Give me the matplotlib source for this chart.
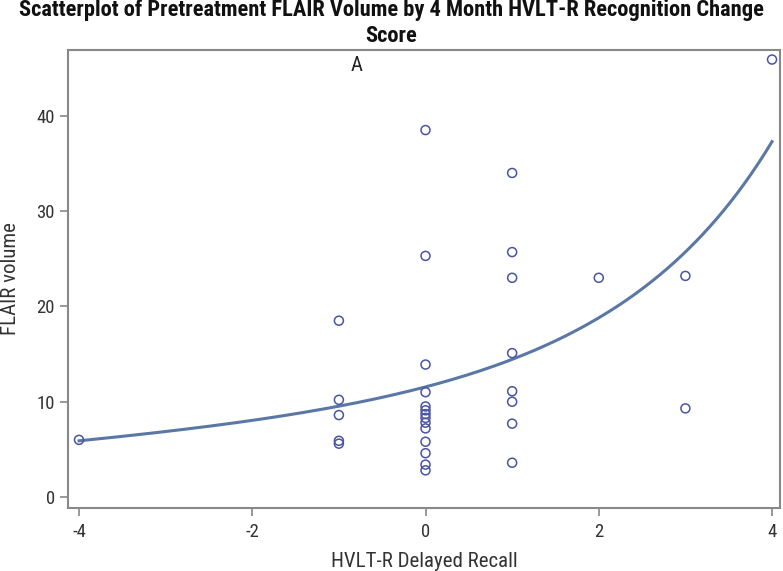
import numpy as np
import matplotlib.pyplot as plt
from matplotlib import font_manager

# delayed recall change score vs pretreatment FLAIR volume
recall = [-4,
          -1, -1, -1, -1, -1,
          0, 0, 0, 0, 0, 0, 0, 0, 0, 0, 0, 0, 0, 0,
          1, 1, 1, 1, 1, 1, 1, 1,
          2,
          3, 3,
          4]
flair = [6.0,
         18.5, 10.2, 8.6, 5.9, 5.6,
         38.5, 25.3, 13.9, 11.0, 9.5, 9.1, 8.7, 8.3, 7.8, 7.2, 5.8, 4.6, 3.4, 2.8,
         34.0, 25.7, 23.0, 15.1, 11.1, 10.0, 7.7, 3.6,
         23.0,
         23.2, 9.3,
         45.9]

# fitted curve, log(volume) = c0 + c1*x + c2*x^2 + c3*x^3 (coefficients)
fit_coef = [2.447, 0.2062, 0.0156, 0.00152]

x_ticks = [-4, -2, 0, 2, 4]
y_ticks = [0, 10, 20, 30, 40]

# pick a narrow face if one is installed
names = {f.name for f in font_manager.fontManager.ttflist}
candidates = ['Arial Narrow', 'Liberation Sans Narrow', 'Roboto Condensed', 'Archivo Narrow',
              'PT Sans Narrow', 'Open Sans Condensed', 'Fira Sans Condensed',
              'IBM Plex Sans Condensed', 'Encode Sans Condensed', 'Asap Condensed']
narrow = next((c for c in candidates if c in names), None)
if narrow:
    plt.rcParams['font.family'] = [narrow, 'DejaVu Sans']
    title_size, label_size, tick_size = 16.2, 15, 13.5
else:
    plt.rcParams['font.family'] = ['DejaVu Sans']
    title_size, label_size, tick_size = 11.5, 12, 11
plt.rcParams['axes.unicode_minus'] = False

fig = plt.figure(figsize=(7.83, 5.71), dpi=100)
ax = fig.add_axes([68 / 783, 1 - 508 / 571, 712 / 783, 458 / 571])

xs = np.linspace(-4, 4, 200)
ys = np.exp(np.polyval(fit_coef[::-1], xs))
ax.plot(xs, ys, color='#5a77a6', lw=2.2, zorder=2)
ax.scatter(recall, flair, s=42, facecolors='none', edgecolors='#4a55a2', linewidths=1.1, zorder=3)

ax.set_xlim(-4.127, 4.092)
ax.set_ylim(-1.15, 46.9)
ax.set_xticks(x_ticks)
ax.set_yticks(y_ticks)
ax.tick_params(colors='#888888', labelcolor='#333333', labelsize=tick_size, length=6, width=1.2)
ax.tick_params(axis='x', pad=5)
for sp in ax.spines.values():
    sp.set_color('#888888')
    sp.set_linewidth(1.5)

ax.set_xlabel('HVLT-R Delayed Recall', fontsize=label_size, color='#333333', labelpad=8)
ax.set_ylabel('FLAIR volume', fontsize=label_size, color='#333333', labelpad=12)
ax.text(0.406, 0.967, 'A', transform=ax.transAxes, ha='center', va='center',
        fontsize=label_size, color='#222222')

fig.text(0.5, 1 - 23 / 571,
         'Scatterplot of Pretreatment FLAIR Volume by 4 Month HVLT-R Recognition Change\nScore',
         ha='center', va='center', fontsize=title_size, fontweight='bold', color='#111111',
         linespacing=1.2)

fig.savefig('out.png', dpi=100)
